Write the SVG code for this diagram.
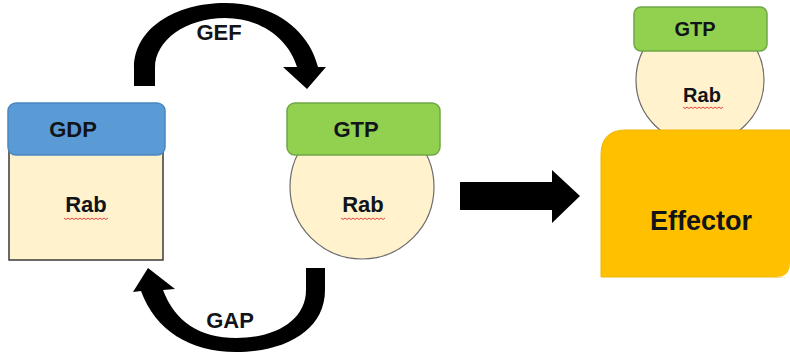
<svg xmlns="http://www.w3.org/2000/svg" width="790" height="354" viewBox="0 0 790 354">
  <style>
    .lbl { font-family: "Liberation Sans", Arial, sans-serif; font-weight: bold; fill: #111418; text-anchor: middle; }
    .cream { fill: #FFF2CC; }
    .green { fill: #92D050; stroke: #6FA745; stroke-width: 1.5; }
    .blue { fill: #5B9BD5; stroke: #4A87C0; stroke-width: 1.5; }
    .squig { fill: none; stroke: #E03030; stroke-width: 0.9; }
    .arrow { fill: #000; }
  </style>
  <rect width="790" height="354" fill="#fff"/>

  <g id="connectors">
    <path id="gef-arrow" class="arrow" d="M134,86 L134,68 C134,28 176,3 225,3 C272,3 308,28 318,67 L326,67 L307,89 L283,67 L297,67 C289,40 262,18 225,18 C186,18 155,40 155,68 L155,86 Z"/>
    <path id="gap-arrow" class="arrow" d="M306,268 L325,268 L325,290 C325,330 286,352 236,352 C190,352 155,330 141,291 L133,292 L148,268 L175,289 L163,290 C175,322 200,338 236,338 C276,338 306,320 306,290 Z"/>
    <path id="main-arrow" class="arrow" d="M460,182 L552,182 L552,170 L580,196 L552,223 L552,210 L460,210 Z"/>
  </g>

  <g id="rab-gdp">
    <rect class="cream" x="9" y="150" width="154" height="110" stroke="#3a3a3a" stroke-width="1.5"/>
    <rect class="blue" x="8" y="103" width="157" height="52" rx="8"/>
    <text class="lbl" x="73" y="137" font-size="22">GDP</text>
    <text class="lbl" x="86" y="212" font-size="22">Rab</text>
    <path class="squig" d="M64,218 l2,1.5 l2,-1.5 l2,1.5 l2,-1.5 l2,1.5 l2,-1.5 l2,1.5 l2,-1.5 l2,1.5 l2,-1.5 l2,1.5 l2,-1.5 l2,1.5 l2,-1.5 l2,1.5 l2,-1.5 l2,1.5 l2,-1.5 l2,1.5 l2,-1.5 l2,1.5 l2,-1.5"/>
  </g>

  <g id="rab-gtp">
    <circle class="cream" cx="362" cy="187" r="72" stroke="#6b6b6b" stroke-width="1.2"/>
    <rect class="green" x="287" y="103" width="153" height="52" rx="8"/>
    <text class="lbl" x="356" y="137" font-size="22">GTP</text>
    <text class="lbl" x="363" y="212" font-size="22">Rab</text>
    <path class="squig" d="M341,218 l2,1.5 l2,-1.5 l2,1.5 l2,-1.5 l2,1.5 l2,-1.5 l2,1.5 l2,-1.5 l2,1.5 l2,-1.5 l2,1.5 l2,-1.5 l2,1.5 l2,-1.5 l2,1.5 l2,-1.5 l2,1.5 l2,-1.5 l2,1.5 l2,-1.5 l2,1.5 l2,-1.5"/>
  </g>

  <g id="effector-complex">
    <circle class="cream" cx="700" cy="80" r="64" stroke="#6b6b6b" stroke-width="1.2"/>
    <rect class="green" x="634" y="7" width="133" height="44" rx="7"/>
    <text class="lbl" x="695" y="36" font-size="20">GTP</text>
    <text class="lbl" x="702" y="102" font-size="20">Rab</text>
    <path class="squig" d="M683,107 l2,1.5 l2,-1.5 l2,1.5 l2,-1.5 l2,1.5 l2,-1.5 l2,1.5 l2,-1.5 l2,1.5 l2,-1.5 l2,1.5 l2,-1.5 l2,1.5 l2,-1.5 l2,1.5 l2,-1.5 l2,1.5 l2,-1.5 l2,1.5 l2,-1.5"/>
    <path id="effector" d="M601,277 L601,155 Q601,130 626,130 L792,130 L792,277 Z" fill="#FFC000" stroke="#F0B400" stroke-width="1"/>
    <path d="M776,277 Q790,277 790,263 L790,278 Z" fill="#fff"/>
    <text class="lbl" x="701" y="230" font-size="27">Effector</text>
  </g>

  <g id="labels">
    <text class="lbl" x="219" y="40" font-size="22">GEF</text>
    <text class="lbl" x="230" y="328" font-size="22">GAP</text>
  </g>
</svg>
